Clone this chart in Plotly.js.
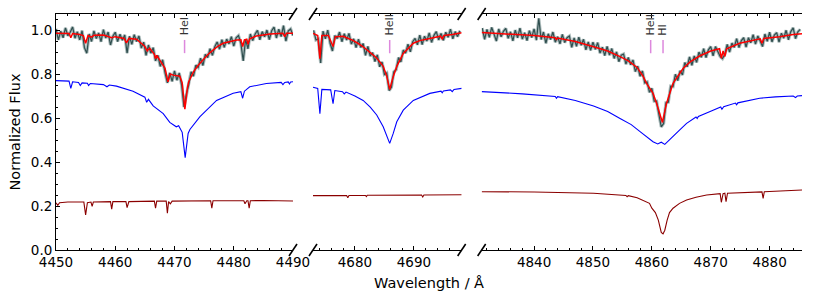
<!DOCTYPE html>
<html><head><meta charset="utf-8">
<script src="https://cdn.plot.ly/plotly-3.0.1.min.js"></script>
<style>html,body{margin:0;padding:0;background:#fff}#chart{width:822px;height:301px}</style>
</head><body><div id="chart"></div>
<script>
// ---------- observed spectra (uniform sampling: start wavelength + step) ----------
const obs1Start = 4450.0, obs1Step = 0.4;
const obs1Flux = [1.005,0.955,0.995,0.965,1.01,0.974,0.99,1.014,0.963,0.992,
0.955,0.997,0.92,0.895,0.982,0.948,0.996,0.961,0.987,0.947,
1.002,0.964,0.991,0.932,0.972,0.99,0.948,0.981,0.954,0.978,
0.895,0.972,0.935,0.979,0.948,0.973,0.918,0.945,0.885,0.932,
0.895,0.92,0.86,0.885,0.835,0.865,0.806,0.76,0.805,0.767,
0.814,0.772,0.805,0.75,0.65,0.71,0.75,0.81,0.79,0.84,
0.83,0.872,0.839,0.89,0.875,0.915,0.885,0.924,0.946,0.913,
0.956,0.921,0.959,0.937,0.97,0.927,0.965,0.975,0.94,0.86,
0.958,0.915,0.982,0.952,0.981,0.999,0.956,0.993,0.969,1.0,
0.957,0.997,1.013,0.964,1.004,0.97,1.02,0.95,0.996,1.005,0.975];

const obs2Start = 4673.0, obs2Step = 0.4;
const obs2Flux = [0.999,0.955,0.96,0.85,0.995,0.96,1.0,0.94,0.905,0.975,
0.961,0.991,0.947,0.983,0.955,0.985,0.936,0.96,0.92,0.958,
0.921,0.939,0.885,0.926,0.882,0.897,0.857,0.887,0.833,0.855,
0.798,0.805,0.725,0.74,0.81,0.82,0.875,0.855,0.909,0.895,
0.936,0.901,0.947,0.962,0.933,0.977,0.934,0.972,0.95,0.987,
0.944,0.976,0.993,0.955,0.985,0.953,0.99,0.967,1.004,0.96,
0.993,0.97,0.997];

const obs3Start = 4831.2, obs3Step = 0.4;
const obs3Flux = [1.009,0.958,1.003,0.967,1.012,0.976,0.95,1.005,0.969,0.994,
1.008,0.962,0.992,0.951,1.0,0.965,1.009,0.959,0.988,0.952,
0.997,0.966,1.005,0.954,1.053,0.957,0.991,0.94,0.983,0.957,
0.991,0.945,0.97,0.937,0.98,0.943,0.965,0.973,0.921,0.964,
0.926,0.968,0.931,0.958,0.91,0.946,0.908,0.945,0.912,0.943,
0.895,0.922,0.884,0.926,0.886,0.916,0.871,0.901,0.856,0.886,
0.891,0.845,0.875,0.842,0.864,0.811,0.836,0.79,0.814,0.76,
0.764,0.717,0.735,0.677,0.677,0.616,0.56,0.575,0.67,0.672,
0.745,0.743,0.799,0.77,0.815,0.796,0.852,0.833,0.878,0.84,
0.882,0.853,0.9,0.876,0.915,0.875,0.91,0.925,0.883,0.925,
0.903,0.88,0.87,0.89,0.935,0.9,0.941,0.921,0.961,0.92,
0.952,0.965,0.922,0.965,0.942,0.979,0.936,0.973,0.95,0.925,
0.982,0.949,0.99,0.946,0.977,0.988,0.945,0.986,0.963,0.999,
0.956,0.993,1.01,0.961,0.992,1.003];

// ---------- composite model (red) ----------
const fit1Wave = [4450.0,4451.0,4452.2,4452.5,4452.8,4454.0,4454.6,4455.0,4455.4,4456.0,4456.4,4458.0,4459.4,4460.0,4461.5,4461.9,4462.3,4463.6,4465.0,4465.4,4465.8,4466.6,4466.8,4467.0,4468.4,4468.9,4469.3,4469.8,4470.9,4471.3,4471.75,4472.2,4472.4,4473.2,4474.0,4474.8,4475.6,4476.5,4477.3,4478.2,4480.5,4481.2,4481.5,4481.8,4482.2,4482.4,4482.7,4483.8,4486.1,4488.3,4488.6,4488.9,4490.0];
const fit1Flux = [0.985,0.985,0.984,0.965,0.984,0.98,0.975,0.94,0.975,0.968,0.976,0.977,0.965,0.97,0.962,0.942,0.962,0.958,0.925,0.905,0.918,0.89,0.87,0.885,0.826,0.765,0.80,0.795,0.79,0.76,0.64,0.74,0.765,0.81,0.84,0.864,0.888,0.909,0.926,0.94,0.955,0.956,0.925,0.955,0.958,0.935,0.96,0.973,0.982,0.985,0.97,0.985,0.985];
const fit2Wave = [4672.9,4673.7,4674.07,4674.4,4675.5,4676.3,4676.7,4678.0,4678.6,4679.5,4680.5,4681.4,4682.5,4683.7,4684.8,4685.4,4685.9,4686.4,4687.1,4688.2,4689.9,4691.0,4692.7,4694.5,4694.8,4695.1,4696.5,4698.1];
const fit2Flux = [0.985,0.975,0.87,0.975,0.975,0.925,0.97,0.972,0.965,0.955,0.94,0.924,0.90,0.873,0.835,0.79,0.73,0.78,0.835,0.894,0.94,0.952,0.962,0.972,0.96,0.975,0.98,0.988];
const fit3Wave = [4831.1,4835.0,4840.0,4843.6,4843.8,4844.0,4847.0,4850.1,4852.5,4854.6,4856.0,4857.5,4858.5,4859.1,4860.2,4860.8,4861.4,4861.8,4862.2,4862.5,4863.6,4865.3,4866.5,4868.1,4870.0,4871.5,4871.8,4872.1,4872.4,4872.7,4874.9,4876.5,4878.4,4878.7,4879.0,4881.7,4884.0,4885.5];
const fit3Flux = [0.989,0.983,0.975,0.965,0.955,0.964,0.948,0.924,0.905,0.879,0.86,0.83,0.79,0.758,0.712,0.667,0.62,0.58,0.63,0.667,0.758,0.825,0.855,0.882,0.905,0.915,0.872,0.905,0.88,0.915,0.94,0.95,0.96,0.94,0.962,0.97,0.98,0.983];

// ---------- component A (blue) ----------
const compA1Wave = [4450.0,4452.2,4452.5,4452.8,4453.8,4454.1,4454.4,4455.3,4455.5,4455.8,4458.0,4458.6,4459.0,4460.2,4463.0,4465.0,4465.3,4465.6,4466.4,4468.1,4469.2,4470.3,4470.7,4471.3,4471.8,4472.3,4472.6,4474.3,4477.1,4479.9,4481.2,4481.5,4481.8,4482.7,4485.5,4488.0,4488.3,4488.6,4489.2,4489.4,4489.6,4490.0];
const compA1Flux = [0.77,0.768,0.735,0.765,0.762,0.748,0.76,0.758,0.748,0.757,0.752,0.742,0.75,0.745,0.722,0.695,0.672,0.685,0.655,0.62,0.58,0.56,0.565,0.535,0.42,0.53,0.548,0.606,0.68,0.713,0.72,0.69,0.722,0.742,0.757,0.762,0.752,0.762,0.764,0.755,0.764,0.765];
const compA2Wave = [4672.9,4673.7,4674.07,4674.4,4675.9,4676.3,4676.6,4677.9,4678.2,4678.5,4680.0,4681.4,4682.6,4683.7,4684.8,4685.6,4685.9,4686.5,4687.1,4688.2,4689.9,4692.7,4694.6,4694.8,4695.0,4696.2,4696.5,4696.8,4698.1];
const compA2Flux = [0.74,0.735,0.62,0.73,0.728,0.665,0.725,0.72,0.71,0.718,0.70,0.68,0.65,0.614,0.56,0.50,0.485,0.53,0.583,0.636,0.68,0.712,0.722,0.715,0.723,0.728,0.72,0.73,0.735];
const compA3Wave = [4831.1,4838.0,4843.6,4843.8,4844.0,4847.0,4850.1,4852.5,4854.6,4856.5,4858.0,4859.3,4860.2,4861.0,4861.6,4862.2,4862.9,4863.6,4864.7,4865.9,4867.5,4867.7,4867.9,4869.8,4871.7,4871.9,4872.2,4874.2,4874.4,4874.6,4878.3,4881.0,4884.0,4884.4,4884.7,4885.5];
const compA3Flux = [0.72,0.71,0.698,0.69,0.697,0.68,0.655,0.63,0.598,0.57,0.538,0.51,0.492,0.482,0.49,0.48,0.497,0.515,0.545,0.576,0.605,0.598,0.607,0.629,0.65,0.64,0.652,0.668,0.66,0.669,0.69,0.696,0.70,0.693,0.70,0.702];

// ---------- component B (dark red) ----------
const compB1Wave = [4450.0,4450.3,4450.6,4452.0,4454.7,4455.0,4455.3,4455.9,4456.1,4456.3,4459.2,4459.4,4459.6,4461.8,4462.0,4462.3,4466.6,4466.8,4467.0,4468.6,4468.8,4469.0,4469.3,4469.6,4476.1,4476.3,4476.5,4481.7,4481.9,4482.2,4482.4,4482.6,4482.8,4485.0,4490.0];
const compB1Flux = [0.215,0.203,0.215,0.218,0.218,0.16,0.215,0.218,0.198,0.218,0.22,0.186,0.22,0.22,0.193,0.22,0.222,0.19,0.222,0.222,0.167,0.22,0.21,0.222,0.224,0.19,0.224,0.224,0.21,0.224,0.224,0.19,0.224,0.225,0.223];
const compB2Wave = [4672.9,4678.6,4678.8,4679.0,4681.8,4681.95,4682.1,4691.3,4691.5,4691.7,4698.1];
const compB2Flux = [0.247,0.248,0.238,0.248,0.248,0.243,0.249,0.25,0.241,0.25,0.251];
const compB3Wave = [4831.1,4840.0,4850.1,4854.0,4855.6,4855.8,4856.0,4857.5,4858.8,4859.6,4860.0,4860.6,4861.1,4861.6,4861.9,4862.2,4862.6,4863.0,4863.6,4864.7,4865.9,4867.5,4869.3,4871.6,4871.8,4872.1,4872.4,4872.6,4872.85,4876.0,4878.7,4878.9,4879.1,4885.5];
const compB3Flux = [0.265,0.264,0.258,0.252,0.248,0.242,0.247,0.238,0.222,0.212,0.19,0.17,0.136,0.08,0.073,0.09,0.136,0.17,0.19,0.212,0.227,0.24,0.25,0.256,0.217,0.256,0.258,0.22,0.258,0.262,0.264,0.235,0.265,0.273];

// ---------- line identifications ----------
const lineNames = ['HeI','HeII','HeII','HI'];
const lineWaves = [4471.7,4685.9,4859.8,4861.9];
const linePanels = ['x','x2','x3','x3'];

const tickLabelsY = ['0.0','0.2','0.4','0.6','0.8','1.0'];

// ---------- build ----------
function grid(start, step, n){ return Array.from({length:n},(_,i)=>+(start+i*step).toFixed(2)); }
const obs = [
  {x: grid(obs1Start, obs1Step, obs1Flux.length), y: obs1Flux, ax:'x'},
  {x: grid(obs2Start, obs2Step, obs2Flux.length), y: obs2Flux, ax:'x2'},
  {x: grid(obs3Start, obs3Step, obs3Flux.length), y: obs3Flux, ax:'x3'}
];
const fits = [[fit1Wave,fit1Flux,'x'],[fit2Wave,fit2Flux,'x2'],[fit3Wave,fit3Flux,'x3']];
const compA = [[compA1Wave,compA1Flux,'x'],[compA2Wave,compA2Flux,'x2'],[compA3Wave,compA3Flux,'x3']];
const compB = [[compB1Wave,compB1Flux,'x'],[compB2Wave,compB2Flux,'x2'],[compB3Wave,compB3Flux,'x3']];

const traces = [];
compA.forEach(c=>traces.push({x:c[0],y:c[1],xaxis:c[2],yaxis:'y',mode:'lines',line:{color:'#0000ff',width:1.1},hoverinfo:'skip'}));
compB.forEach(c=>traces.push({x:c[0],y:c[1],xaxis:c[2],yaxis:'y',mode:'lines',line:{color:'#8b0000',width:1.1},hoverinfo:'skip'}));
obs.forEach(o=>traces.push({x:o.x,y:o.y,xaxis:o.ax,yaxis:'y',mode:'lines',line:{color:'rgba(70,105,105,0.45)',width:3.2},hoverinfo:'skip'}));
obs.forEach(o=>traces.push({x:o.x,y:o.y,xaxis:o.ax,yaxis:'y',mode:'lines',line:{color:'#2f4f4f',width:1.2},hoverinfo:'skip'}));
fits.forEach(c=>traces.push({x:c[0],y:c[1],xaxis:c[2],yaxis:'y',mode:'lines',line:{color:'#ff0000',width:1.5},hoverinfo:'skip'}));

const FONT = 'DejaVu Sans, sans-serif';
const minorX = {ticks:'inside',ticklen:2,tickwidth:1,tickcolor:'#000',dtick:2,showgrid:false};
const baseX = {showline:true,linecolor:'#000',linewidth:1,mirror:'ticks',ticks:'inside',ticklen:4,tickwidth:1,tickcolor:'#000',
  showgrid:false,zeroline:false,dtick:10,tickfont:{size:13.5,color:'#000',family:FONT},minor:minorX,anchor:'y',fixedrange:true};
const baseY = {range:[0,1.073],showline:true,linecolor:'#000',linewidth:1,ticks:'inside',ticklen:4,tickwidth:1,tickcolor:'#000',
  showgrid:false,zeroline:false,tickmode:'array',tickvals:tickLabelsY.map(Number),ticktext:tickLabelsY,
  tickfont:{size:13.5,color:'#000',family:FONT},minor:{ticks:'inside',ticklen:2,tickwidth:1,tickcolor:'#000',dtick:0.05,showgrid:false},fixedrange:true};

const shapes = [];
// break marks on the cut axis ends
[['x',1],['x2',0],['x2',1],['x3',0]].forEach(([ax,pos])=>{
  [0,1].forEach(yp=>{
    shapes.push({type:'line',xref:ax+' domain',yref:'paper',xsizemode:'pixel',ysizemode:'pixel',xanchor:pos,yanchor:yp,
      x0:-4,x1:4,y0:-6,y1:6,line:{color:'#000',width:1.6}});
  });
});
const annotations = [];
lineNames.forEach((n,i)=>{
  shapes.push({type:'line',xref:linePanels[i],yref:'y',x0:lineWaves[i],x1:lineWaves[i],y0:0.895,y1:0.955,line:{color:'#dd88dd',width:1.5}});
  annotations.push({xref:linePanels[i],yref:'y',x:lineWaves[i],y:0.965,text:n,textangle:-90,showarrow:false,
    xanchor:'center',yanchor:'bottom',font:{size:11,color:'#333',family:FONT}});
});
annotations.push({xref:'paper',yref:'paper',x:0.5,y:0,yshift:-23,xanchor:'center',yanchor:'top',showarrow:false,
  text:'Wavelength / Å',font:{size:14.5,color:'#000',family:FONT}});

const layout = {
  width:822,height:301,margin:{l:56,r:20,t:14,b:51},
  paper_bgcolor:'#fff',plot_bgcolor:'rgba(0,0,0,0)',showlegend:false,
  font:{family:FONT,color:'#000'},
  xaxis: Object.assign({},baseX,{domain:[0,0.3177],range:[4450,4490]}),
  xaxis2: Object.assign({},baseX,{domain:[0.3445,0.5438],range:[4672.9,4698.1]}),
  xaxis3: Object.assign({},baseX,{domain:[0.5706,1],range:[4831.1,4885.5]}),
  yaxis: Object.assign({},baseY,{anchor:'x',title:{text:'Normalized Flux',font:{size:14.5,family:FONT,color:'#000'},standoff:6}}),
  yaxis2: Object.assign({},baseY,{anchor:'x3',overlaying:'y',side:'right',showticklabels:false}),
  shapes:shapes,annotations:annotations
};
Plotly.newPlot('chart',traces,layout,{staticPlot:true,displayModeBar:false});
</script></body></html>
